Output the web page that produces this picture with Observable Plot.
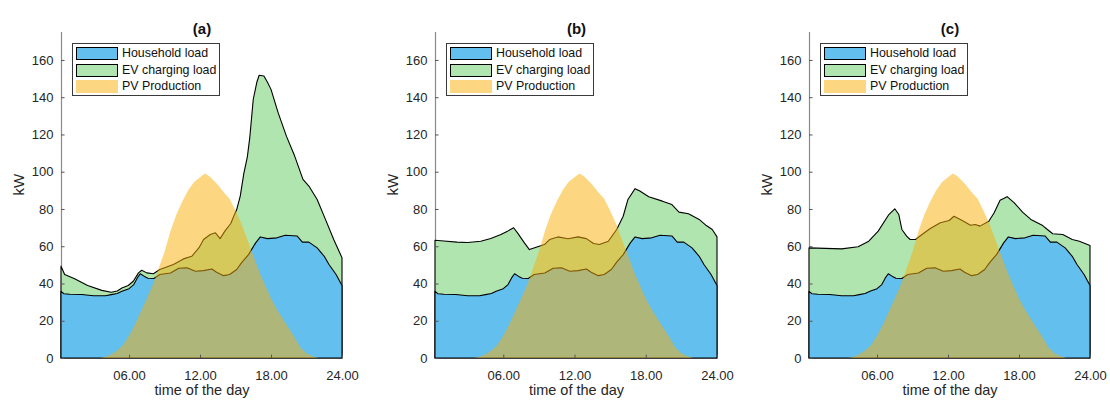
<!DOCTYPE html>
<html><head><meta charset="utf-8">
<script src="https://cdn.jsdelivr.net/npm/d3@7"></script>
<script src="https://cdn.jsdelivr.net/npm/@observablehq/plot@0.6"></script>
<style>
body{margin:0;background:#fff;font-family:"Liberation Sans",Arial,Helvetica,sans-serif;}
#wrap{display:flex;width:1110px;height:403px;}
.panel{position:relative;width:370px;height:403px;}
.panel svg{display:block;}
.legend{position:absolute;top:43px;width:146px;height:51px;border:1px solid #3a3a3a;background:#fff;font-size:12.4px;color:#111;}
.row{position:absolute;left:3px;height:13px;width:140px;}
.sw{position:absolute;left:0;top:0;width:40px;height:11px;border:1px solid #000;}
.sw.noborder{border:none;width:42px;height:13px;}
.lbl{position:absolute;left:46px;top:-1px;line-height:15px;white-space:nowrap;}
</style></head><body><div id="wrap"></div><script>
// ---- data ----
const panelTitles = ["(a)", "(b)", "(c)"];
const seriesNames = ["Household load", "EV charging load", "PV Production"];
const xTicks = [6, 12, 18, 24];
const xTickLabels = ["06.00", "12.00", "18.00", "24.00"];
const yTicks = [0, 20, 40, 60, 80, 100, 120, 140, 160];

// household load (same in every panel)
const householdHours = [0.25,0.5,1,2,3,4,4.5,5,5.4,6.0,6.4,6.7,6.95,7.3,7.6,8.1,8.6,9.5,10.2,10.9,11.6,12.3,13.0,13.4,14.0,14.5,15.1,15.55,16.1,16.7,17.1,17.7,18.5,19.2,20.2,20.65,21.2,21.9,22.5,22.9,23.5,24];
const householdKW    = [35.8,34.5,34.2,34.1,33.4,33.4,34,34.6,35.8,37.2,39.4,43,45.2,43.8,42.8,42.7,44.8,45.6,48.2,48.4,46.6,46.9,47.8,46,44.2,44.8,47.5,51.5,55.5,61.8,65,64.1,64.5,65.9,65.5,62.2,62.2,59.1,54.6,50.2,44.8,38.9];

// PV production (same in every panel)
const pvHours = [3.5,4,4.5,5,5.5,6,6.5,7,7.5,8,8.5,9,9.5,10,10.5,11,11.5,12,12.4,12.8,13.5,14,14.5,15,15.5,16,16.5,17,17.5,18,18.5,19,19.5,20,20.5,21,21.5,22];
const pvKW    = [0,0.5,2,4,7,12,18,25,32,39,48,57,68,77,84,90,94.5,97,99,97.5,93,89,85.5,79,72,63.5,55,46.5,39,32,26,21,16,11,5.5,2.5,1,0];

// household + EV charging load (top of the stack), per scenario
const totalHoursA = [0.25,0.56,1.4,2.5,3.7,4.5,5.0,5.4,5.93,6.36,6.8,7.07,7.5,8.06,8.6,9.75,10.6,11.3,11.9,12.3,12.87,13.3,13.7,14.1,14.6,14.85,15.1,15.4,15.7,16.0,16.2,16.5,16.8,17.0,17.4,17.7,18.0,18.6,19.3,20.0,20.7,21.2,21.9,22.6,23.3,24];
const totalKWA    = [49.3,44.8,42.5,38.9,36.3,35.3,36,37.6,38.9,41.2,45.7,47.1,45.7,45.2,47.5,50.2,53.2,54.6,59.1,63.6,66.3,67.2,64.1,68.1,72.2,76.1,79.7,86.9,99,108,118,138.9,148,151.8,151.4,148,144.2,131.7,119.1,108.4,95.9,92.3,85.1,74.4,63.6,53.8];

const totalHoursB = [0.25,1,2.1,3,4.1,4.95,5.8,6.36,6.87,7.2,7.78,8.2,8.9,9.47,9.9,10.6,11.45,12.3,13.0,13.6,14.1,14.85,15.55,16.1,16.5,17.1,17.5,18.25,19.4,20.2,20.8,21.6,22.5,23.1,23.6,24];
const totalKWB    = [63.2,62.8,62.2,62,62.7,64.1,66.3,68.1,69.9,67.2,61.8,58.2,59.7,60.9,63.6,65,64,65,64.1,61.5,60.9,62.7,69,76.1,85.1,90.9,89.6,86.6,84.2,82.4,78.3,77.4,74.4,71.1,69,65];

const totalHoursC = [0.25,3.0,4.4,5.3,6.1,7.0,7.5,7.84,8.1,8.5,8.8,9.25,9.8,10.5,11.35,12.1,12.5,13.2,13.9,14.3,14.7,15.45,15.9,16.4,17.0,17.6,18.3,19.0,20.0,20.4,20.85,21.7,22.5,23.1,24];
const totalKWC    = [59.1,58.6,59.7,62.7,68.1,77,80.1,77,69,65.4,63.6,63.6,66.3,69.5,72.6,73.8,76.1,73.8,71.3,71.7,70.8,73.4,78,84.7,86.6,83.3,78.3,74.4,71.1,69,66.7,66.3,63.6,62.7,60.4];

// ---- styling ----
const colBlue = "#62BFEE", colGreen = "#B1E5B0", colOrange = "#FBAE05", pvOpacity = 0.5;
const textColor = "#262626";

const toRows = (hs, vs) => hs.map((h, i) => ({h, v: vs[i]}));
const household = toRows(householdHours, householdKW);
const pv = toRows(pvHours, pvKW);
const totals = [toRows(totalHoursA, totalKWA), toRows(totalHoursB, totalKWB), toRows(totalHoursC, totalKWC)];
const margins = [[61, 28], [65, 23], [69, 20]];

const wrap = document.getElementById("wrap");
panelTitles.forEach((title, p) => {
  const [ml, mr] = margins[p];
  const chart = Plot.plot({
    width: 370, height: 403,
    marginLeft: ml, marginRight: mr, marginTop: 32, marginBottom: 45,
    style: {fontFamily: "'Liberation Sans', Arial, sans-serif", fontSize: "13px", color: textColor, background: "white"},
    x: {domain: [0.25, 24]},
    y: {domain: [0, 175]},
    marks: [
      Plot.ruleX([0.25], {stroke: "#8a8a8a", strokeWidth: 1.2}),
      Plot.areaY(totals[p], {x: "h", y: "v", fill: colGreen, stroke: "black", strokeWidth: 1.1}),
      Plot.areaY(household, {x: "h", y: "v", fill: colBlue, stroke: "black", strokeWidth: 1.1}),
      Plot.areaY(pv, {x: "h", y: "v", fill: colOrange, fillOpacity: pvOpacity}),
      Plot.ruleY(yTicks, {y: d => d, x1: 0.25, x2: 0.55, stroke: "#555"}),
      Plot.ruleX(xTicks, {x: d => d, y1: 0, y2: 1.8, stroke: "#555"}),
      Plot.axisY(yTicks, {tickSize: 0, tickPadding: 8, label: null, fontSize: 13, fill: textColor}),
      Plot.axisX(xTicks, {tickSize: 0, tickPadding: 12, label: null, fontSize: 13, fill: textColor, tickFormat: (d) => xTickLabels[xTicks.indexOf(d)]}),
      Plot.text([title], {frameAnchor: "top", dy: -9.5, text: d => d, fontWeight: "bold", fontSize: 15, fill: "#111"}),
      Plot.text(["kW"], {frameAnchor: "left", dx: -42, rotate: -90, text: d => d, fontSize: 15, fill: textColor}),
      Plot.text(["time of the day"], {frameAnchor: "bottom", dy: 36, text: d => d, fontSize: 14.5, fill: textColor})
    ]
  });
  const div = document.createElement("div");
  div.className = "panel";
  div.appendChild(chart);
  const leg = document.createElement("div");
  leg.className = "legend";
  leg.style.left = (ml + 11) + "px";
  const swCols = [colBlue, colGreen, null];
  const tops = [3, 19.5, 36];
  seriesNames.forEach((name, i) => {
    const row = document.createElement("div");
    row.className = "row";
    row.style.top = tops[i] + "px";
    const sw = document.createElement("div");
    sw.className = "sw" + (i === 2 ? " noborder" : "");
    sw.style.background = i === 2 ? "rgb(253,214,130)" : swCols[i];
    const lb = document.createElement("div");
    lb.className = "lbl";
    lb.textContent = name;
    row.appendChild(sw); row.appendChild(lb);
    leg.appendChild(row);
  });
  div.appendChild(leg);
  wrap.appendChild(div);
});
</script></body></html>
